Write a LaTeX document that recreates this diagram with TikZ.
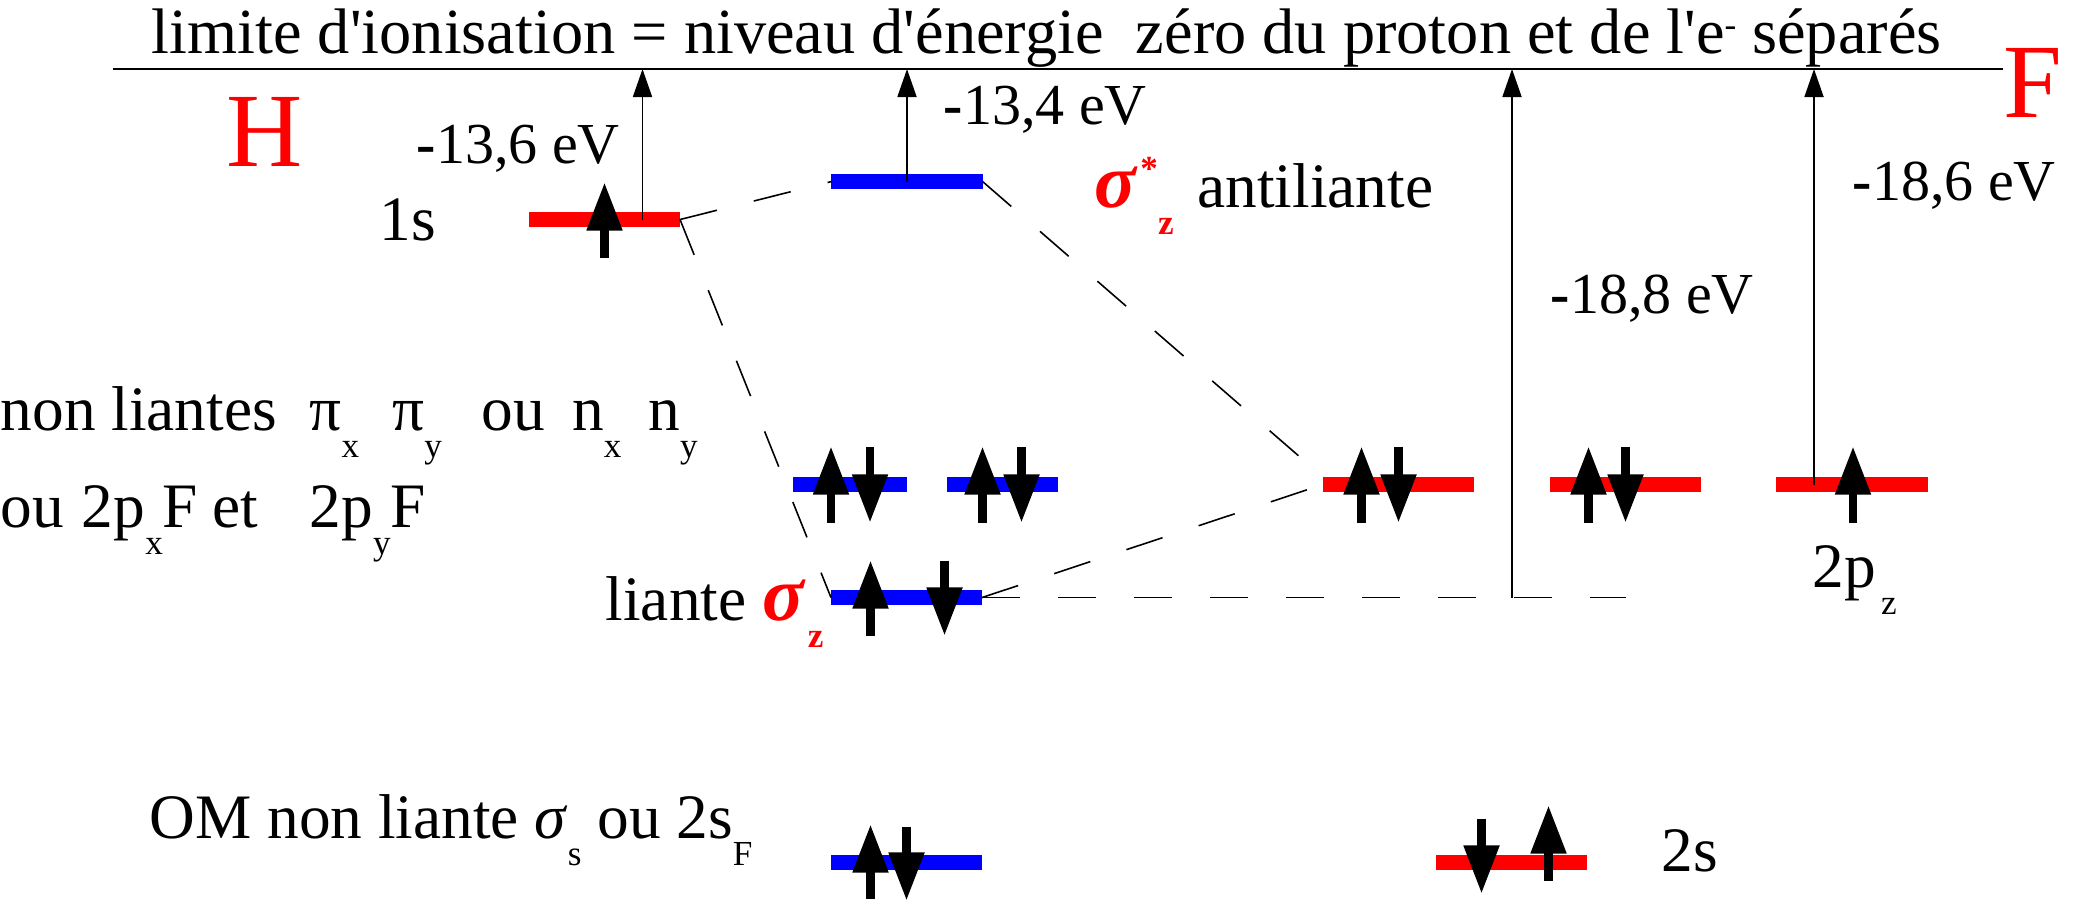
\documentclass[tikz,border=0pt]{standalone}
\usepackage{fontspec}
\setmainfont{Liberation Serif}
\usetikzlibrary{arrows.meta,calc}
\newcommand{\lowsub}[1]{\raisebox{-0.27cm}{\fontsize{10}{10}\selectfont #1}}
\newcommand{\apos}{\textquotesingle}
\newcommand{\bigsig}{{\fontsize{22}{22}\selectfont\bfseries\itshape σ}\hspace{0.04cm}}

\begin{document}
\begin{tikzpicture}[
  x=0.01cm, y=-0.01cm,
  font=\fontsize{18}{21}\selectfont,
  lbl/.style={anchor=base west, inner sep=0pt},
  ev/.style={lbl, font=\fontsize{16.5}{19}\selectfont},
  atom/.style={lbl, text=red, font=\fontsize{30}{34}\selectfont},
  lvl/.style={inner sep=0pt, outer sep=0pt, minimum width=1.51cm, minimum height=0.15cm},
  aolvl/.style={lvl, fill=red},
  omlvl/.style={lvl, fill=blue},
  corr/.style={line width=0.45pt, dash pattern=on 0.38cm off 0.38cm},
  ion/.style={-{Triangle[length=0.28cm, width=0.19cm]}, line width=0.5pt},
  spin/.style={-{Triangle[length=0.48cm, width=0.34cm]}, line width=2.3pt},
]
\useasboundingbox (0,0) rectangle (2076,899);
% niveau zero
\coordinate (limL) at (113,69);
\coordinate (limR) at (2003,69);
\draw[line width=0.6pt] (limL) -- (limR);
\node[lbl, font=\fontsize{18.3}{21}\selectfont] (title) at (151,53) {limite d\apos ionisation = niveau d\apos énergie\ \ zéro du proton et de l\apos e\raisebox{0.16cm}{\fontsize{10}{10}\selectfont -}\ séparés};
\node[atom] (atH) at (226,166) {H};
\node[atom] (atF) at (2003,117) {F};

% niveaux
\node[aolvl] (h1s) at (604.5,219.5) {};
\node[omlvl] (sigstar) at (907,181.5) {};
\node[omlvl, minimum width=1.14cm] (pix) at (850,484.5) {};
\node[omlvl, minimum width=1.11cm] (piy) at (1002.5,484.5) {};
\node[omlvl] (sig) at (906.5,597.5) {};
\node[omlvl] (sigs) at (906.5,862.5) {};
\node[aolvl] (fpx) at (1398.5,484.5) {};
\node[aolvl] (fpy) at (1625.5,484.5) {};
\node[aolvl] (fpz) at (1852,484.5) {};
\node[aolvl] (fs) at (1511.5,862.5) {};

% correlations
\draw[corr] (h1s.east) -- (sigstar.west);
\draw[corr] (h1s.east) -- (sig.west);
\draw[corr] (sigstar.east) -- (fpx.north west);
\draw[corr] (sig.east) -- (fpx.west);
\coordinate (sigend) at (1626,597.5);
\draw[corr] (sig.east) -- (sigend);

% energies d'ionisation
\coordinate (h1foot) at ($(h1s.center)+(38,0)$);
\draw[ion] (h1foot) -- (h1foot |- limL);
\draw[ion] (sigstar.center) -- (sigstar.center |- limL);
\coordinate (sigfoot) at (1512,597.5);
\draw[ion] (sigfoot) -- (sigfoot |- limL);
\coordinate (fpzfoot) at ($(fpz.center)+(-38,0)$);
\draw[ion] (fpzfoot) -- (fpzfoot |- limL);

\node[ev] (e1s) at (416,163) {\textbf{-}13,6 eV};
\node[lbl] (l1s) at (379,240) {1s};
\node[ev] (estar) at (943,124) {\textbf{-}13,4 eV};
\node[ev] (epz) at (1852,200) {\textbf{-}18,6 eV};
\node[ev] (esig) at (1550,313) {\textbf{-}18,8 eV};
\node[lbl] (lstar) at (1094,207) {\textcolor{red}{\bigsig\raisebox{0.26cm}{\fontsize{10}{10}\selectfont\bfseries *}\lowsub{\bfseries z}}\hspace{0.24cm}antiliante};
\node[lbl] (lpi) at (0,430) {non liantes\hspace{0.33cm}π\lowsub{x}\hspace{0.33cm}π\lowsub{y}\hspace{0.4cm}ou\hspace{0.27cm}n\lowsub{x}\hspace{0.27cm}n\lowsub{y}};
\node[lbl] (lpf) at (0,527) {ou\hspace{0.18cm}2p\lowsub{x}F\hspace{0.14cm}et\hspace{0.52cm}2p\lowsub{y}F};
\node[lbl] (lsig) at (605,620) {liante \textcolor{red}{\bigsig\lowsub{\bfseries z}}};
\node[lbl] (l2pz) at (1812,587) {2p\hspace{0.05cm}\lowsub{z}};
\node[lbl] (lsigs) at (149,838) {OM non liante \textit{σ}\lowsub{s} ou 2s\lowsub{F}};
\node[lbl] (l2s) at (1661,871) {2s};

% electrons
\draw[spin] ($(h1s.center)+(0,38)$) -- ++(0,-75);
\draw[spin] ($(pix.center)+(-19,38)$) -- ++(0,-76);
\draw[spin] ($(pix.center)+(20,-38)$) -- ++(0,76);
\draw[spin] ($(piy.center)+(-20,38)$) -- ++(0,-76);
\draw[spin] ($(piy.center)+(19,-38)$) -- ++(0,76);
\draw[spin] ($(sig.center)+(-36,38)$) -- ++(0,-75);
\draw[spin] ($(sig.center)+(38,-37)$) -- ++(0,75);
\draw[spin] ($(sigs.center)+(-36,36)$) -- ++(0,-74);
\draw[spin] ($(sigs.center)+(0,-36)$) -- ++(0,74);
\draw[spin] ($(fpx.center)+(-37,38)$) -- ++(0,-76);
\draw[spin] ($(fpx.center)+(0,-38)$) -- ++(0,76);
\draw[spin] ($(fpy.center)+(-37,38)$) -- ++(0,-76);
\draw[spin] ($(fpy.center)+(0,-38)$) -- ++(0,76);
\draw[spin] ($(fpz.center)+(1,38)$) -- ++(0,-76);
\draw[spin] ($(fs.center)+(-30,-44)$) -- ++(0,75);
\draw[spin] ($(fs.center)+(37,18)$) -- ++(0,-75);
\end{tikzpicture}
\end{document}
